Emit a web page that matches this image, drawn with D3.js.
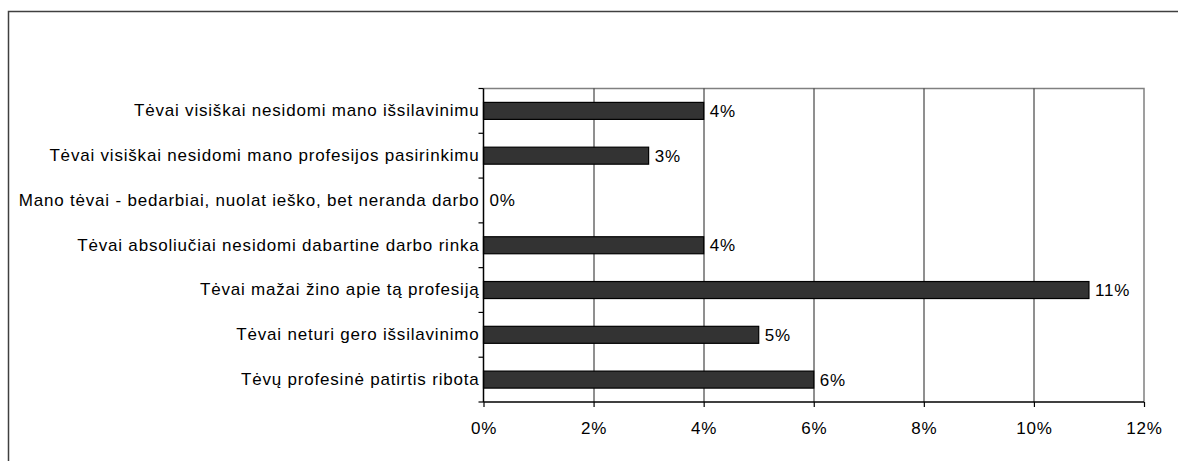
<!DOCTYPE html>
<html>
<head>
<meta charset="utf-8">
<script src="https://cdn.jsdelivr.net/npm/d3@7"></script>
<style>
  body { margin: 0; background: #fff; }
  svg { display: block; font-family: "Liberation Sans", Arial, sans-serif; }
  svg text { letter-spacing: 0.8px; }
</style>
</head>
<body>
<div id="chart"></div>
<script>
// categories top to bottom
var categories = [
  "Tėvai visiškai nesidomi mano išsilavinimu",
  "Tėvai visiškai nesidomi mano profesijos pasirinkimu",
  "Mano tėvai - bedarbiai, nuolat ieško, bet neranda darbo",
  "Tėvai absoliučiai nesidomi dabartine darbo rinka",
  "Tėvai mažai žino apie tą profesiją",
  "Tėvai neturi gero išsilavinimo ",
  "Tėvų profesinė patirtis ribota"
];
var values = [0.04, 0.03, 0.0, 0.04, 0.11, 0.05, 0.06];
var xTicks = [0, 0.02, 0.04, 0.06, 0.08, 0.10, 0.12];

var W = 1178, H = 461;
var margin = {top: 88.5, right: 34, bottom: 59, left: 483.5};
var width = W - margin.left - margin.right;
var height = H - margin.top - margin.bottom;
var fontSize = 17;

var svg = d3.select("#chart").append("svg")
  .attr("width", W)
  .attr("height", H);

// outer chart frame
svg.append("path")
  .attr("d", "M8.5," + H + "V11.5H" + W)
  .attr("fill", "none")
  .attr("stroke", "#404040")
  .attr("stroke-width", 1.5);

var g = svg.append("g")
  .attr("transform", "translate(" + margin.left + "," + margin.top + ")");

var x = d3.scaleLinear().domain([0, 0.12]).range([0, width]);
var yb = d3.scaleBand().domain(categories).range([0, height]);

// plot area border (top/right)
g.append("path")
  .attr("d", "M0,0H" + width + "V" + height)
  .attr("fill", "none")
  .attr("stroke", "#808080")
  .attr("stroke-width", 1.5);

// gridlines
g.selectAll("line.grid")
  .data(xTicks.slice(1, -1))
  .enter().append("line")
  .attr("class", "grid")
  .attr("x1", function(d){ return Math.round(x(d)) + 0.5; })
  .attr("x2", function(d){ return Math.round(x(d)) + 0.5; })
  .attr("y1", 0)
  .attr("y2", height)
  .attr("stroke", "#202020")
  .attr("stroke-width", 1);

// bars
g.selectAll("rect.bar")
  .data(values)
  .enter().append("rect")
  .attr("class", "bar")
  .attr("x", 0)
  .attr("y", function(d, i){ return yb(categories[i]) + yb.bandwidth()/2 - 8.5; })
  .attr("width", function(d){ return x(d); })
  .attr("height", 17)
  .attr("fill", "#333333")
  .attr("stroke", "#000")
  .attr("stroke-width", 1.2)
  .style("display", function(d){ return d > 0 ? null : "none"; });

// value labels
g.selectAll("text.val")
  .data(values)
  .enter().append("text")
  .attr("class", "val")
  .attr("x", function(d){ return x(d) + 6; })
  .attr("y", function(d, i){ return yb(categories[i]) + yb.bandwidth()/2; })
  .attr("dy", "0.35em")
  .attr("font-size", fontSize)
  .attr("fill", "#000")
  .text(function(d){ return Math.round(d * 100) + "%"; });

// x axis
var xAxis = d3.axisBottom(x)
  .tickValues(xTicks)
  .tickFormat(function(d){ return Math.round(d * 100) + "%"; })
  .tickSize(5)
  .tickPadding(15);
var gx = g.append("g")
  .attr("transform", "translate(0," + height + ")")
  .call(xAxis);
gx.select(".domain").attr("stroke", "#000").attr("stroke-width", 1.5).attr("d", "M0,0H" + width);
gx.selectAll(".tick line").attr("stroke", "#000").attr("stroke-width", 1.2);
gx.selectAll(".tick text").attr("font-size", fontSize).attr("font-family", "Liberation Sans, Arial, sans-serif").attr("fill", "#000");

// y axis with category labels
var yAxis = d3.axisLeft(yb).tickSize(0).tickPadding(4);
var gy = g.append("g").call(yAxis);
gy.select(".domain").attr("stroke", "#000").attr("stroke-width", 1.5).attr("d", "M0,0V" + height);
gy.selectAll(".tick text").attr("font-size", fontSize).attr("font-family", "Liberation Sans, Arial, sans-serif").attr("fill", "#000");

// y tick marks at category boundaries
g.selectAll("line.ytick")
  .data(d3.range(categories.length + 1))
  .enter().append("line")
  .attr("class", "ytick")
  .attr("x1", -5)
  .attr("x2", 0)
  .attr("y1", function(i){ return i * yb.step(); })
  .attr("y2", function(i){ return i * yb.step(); })
  .attr("stroke", "#000")
  .attr("stroke-width", 1.2);
</script>
</body>
</html>
